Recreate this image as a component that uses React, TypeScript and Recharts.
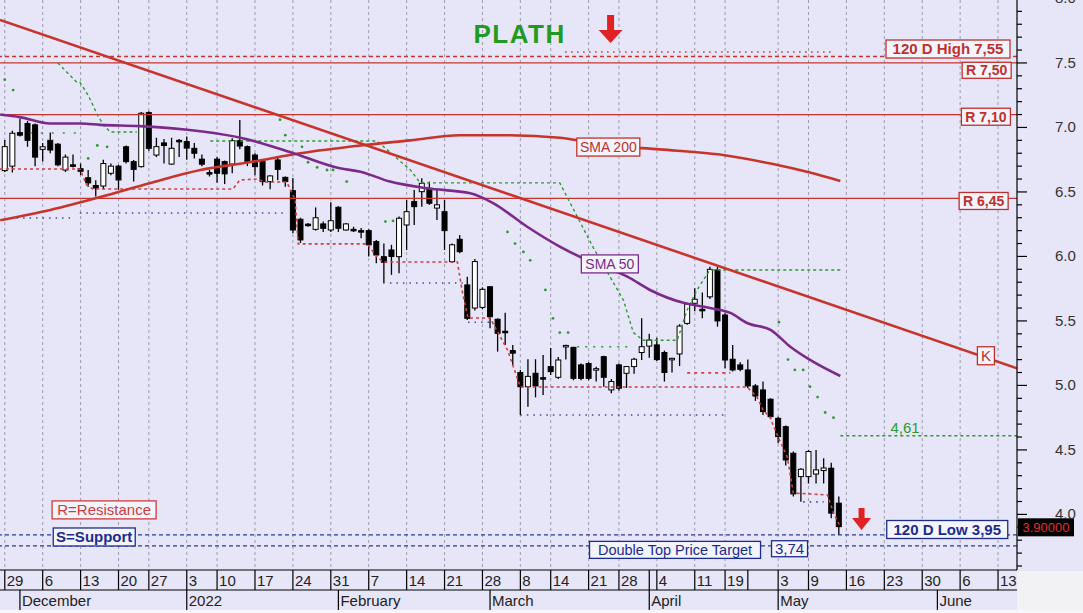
import {
  ComposedChart, Bar, Line, XAxis, YAxis, CartesianGrid, ReferenceLine, ReferenceDot,
} from 'recharts'

const FONT = 'Arial, "Liberation Sans", sans-serif'
const BG = '#e6e6f8'
const BOX_FILL = '#f4f4fc'
const RED = '#c8342c'
const RED_TXT = '#c0302c'
const NAVY = '#1c2c8c'
const PURPLE = '#7b2a8c'
const GREEN = '#2f9a2f'

// trading day index: 0 = Mon 29 Nov 2021 ... 110 = Fri 13 May 2022
const OPEN = [
  6.665, 6.70, 6.96, 7.03, 7.02, 6.83, 6.90, 6.87, 6.67, 6.71,
  6.68, 6.61, 6.55, 6.546, 6.645, 6.70, 6.85, 6.735, 6.696, 7.115,
  6.786, 6.88, 6.716, 6.90, 6.89, 6.838, 6.754, 6.65, 6.754, 6.735,
  6.716, 6.897, 6.851, 6.786, 6.735, 6.58, 6.748, 6.613, 6.51, 6.288,
  6.25, 6.21, 6.252, 6.205, 6.381, 6.205, 6.21, 6.20, 6.20, 6.115,
  5.998, 6.05, 5.998, 6.244, 6.425, 6.502, 6.528, 6.375, 6.347, 5.96,
  6.133, 5.779, 5.60, 5.605, 5.765, 5.513, 5.42, 5.27, 5.10, 4.99,
  5.094, 5.06, 5.146, 5.063, 5.30, 5.295, 5.159, 5.17, 5.13, 5.223,
  4.965, 5.159, 5.094, 5.146, 5.255, 5.305, 5.314, 5.255, 5.21, 5.244,
  5.481, 5.637, 5.59, 5.687, 5.895, 5.546, 5.203, 5.159, 5.12, 4.996,
  4.965, 4.893, 4.745, 4.68, 4.474, 4.293, 4.293, 4.313, 4.34, 4.358,
  4.087,
]
const HIGH = [
  6.903, 6.975, 7.07, 7.05, 7.03, 6.88, 6.96, 6.88, 6.79, 6.79,
  6.72, 6.67, 6.59, 6.75, 6.72, 6.71, 6.86, 6.748, 7.12, 7.125,
  6.92, 6.91, 6.92, 6.91, 6.93, 6.88, 6.79, 6.67, 6.77, 6.743,
  6.916, 7.058, 6.86, 6.80, 6.75, 6.63, 6.77, 6.62, 6.608, 6.30,
  6.26, 6.38, 6.27, 6.42, 6.39, 6.26, 6.23, 6.22, 6.21, 6.128,
  6.10, 6.09, 6.31, 6.438, 6.515, 6.606, 6.58, 6.515, 6.438, 6.10,
  6.166, 5.843, 5.98, 5.76, 5.77, 5.52, 5.564, 5.313, 5.12, 5.203,
  5.203, 5.236, 5.29, 5.22, 5.315, 5.30, 5.17, 5.18, 5.145, 5.23,
  5.05, 5.17, 5.15, 5.215, 5.52, 5.40, 5.37, 5.27, 5.215, 5.475,
  5.64, 5.753, 5.72, 5.92, 5.92, 5.559, 5.313, 5.18, 5.20, 5.01,
  5.03, 4.90, 4.758, 4.69, 4.487, 4.358, 4.50, 4.50, 4.435, 4.40,
  4.138,
]
const LOW = [
  6.655, 6.65, 6.93, 6.85, 6.70, 6.735, 6.80, 6.70, 6.655, 6.69,
  6.63, 6.54, 6.465, 6.52, 6.63, 6.515, 6.72, 6.58, 6.69, 6.82,
  6.77, 6.72, 6.71, 6.77, 6.75, 6.76, 6.70, 6.62, 6.572, 6.561,
  6.645, 6.83, 6.70, 6.63, 6.55, 6.52, 6.59, 6.54, 6.18, 6.105,
  6.23, 6.20, 6.19, 6.19, 6.19, 6.20, 6.19, 6.14, 6.00, 5.947,
  5.79, 5.857, 5.87, 6.05, 6.244, 6.386, 6.40, 6.283, 6.05, 5.95,
  6.024, 5.507, 5.58, 5.59, 5.443, 5.262, 5.313, 5.158, 4.771, 4.835,
  4.908, 4.926, 5.08, 5.05, 5.20, 5.04, 5.04, 5.04, 5.03, 4.99,
  4.94, 4.96, 4.98, 5.09, 5.197, 5.215, 5.19, 5.03, 5.10, 5.15,
  5.47, 5.575, 5.52, 5.67, 5.455, 5.133, 5.107, 5.11, 4.98, 4.88,
  4.771, 4.74, 4.552, 4.38, 4.138, 4.099, 4.24, 4.24, 4.24, 3.97,
  3.841,
]
const CLOSE = [
  6.851, 6.955, 6.94, 6.90, 6.77, 6.85, 6.825, 6.71, 6.77, 6.70,
  6.66, 6.57, 6.53, 6.72, 6.70, 6.593, 6.735, 6.675, 7.11, 6.838,
  6.851, 6.86, 6.838, 6.89, 6.84, 6.80, 6.715, 6.64, 6.645, 6.64,
  6.897, 6.856, 6.735, 6.696, 6.58, 6.624, 6.675, 6.58, 6.205, 6.128,
  6.24, 6.30, 6.218, 6.277, 6.218, 6.252, 6.20, 6.19, 6.09, 6.011,
  5.955, 6.00, 6.296, 6.347, 6.386, 6.567, 6.412, 6.40, 6.20, 6.09,
  6.037, 5.52, 5.96, 5.745, 5.533, 5.404, 5.41, 5.25, 4.99, 5.07,
  4.996, 5.05, 5.107, 5.197, 5.31, 5.055, 5.055, 5.055, 5.13, 5.063,
  5.03, 4.978, 5.146, 5.203, 5.30, 5.352, 5.20, 5.10, 5.21, 5.46,
  5.631, 5.668, 5.58, 5.90, 5.50, 5.197, 5.12, 5.125, 4.996, 4.918,
  4.797, 4.758, 4.603, 4.422, 4.159, 4.35, 4.487, 4.345, 4.36, 4.01,
  3.905,
]

// [day index, value]
const SMA50 = [
  [-0.6, 7.10], [2, 7.08], [6, 7.03], [10, 7.03], [12.6, 7.02], [17.8, 7.01],
  [25.8, 6.97], [31.5, 6.915], [37.6, 6.81], [44.2, 6.683], [46.9, 6.657],
  [50.8, 6.58], [55.7, 6.528], [61.4, 6.49], [64.4, 6.414], [68.9, 6.23],
  [73.2, 6.076], [77.6, 5.95], [82.1, 5.843], [85.1, 5.74], [89.5, 5.64],
  [93, 5.60], [95.7, 5.562], [97.9, 5.484], [101, 5.43], [103.6, 5.30],
  [106.6, 5.184], [110.2, 5.073],
]
const SMA200 = [
  [-0.6, 6.28], [6, 6.36], [12.6, 6.46], [19.2, 6.57], [25.8, 6.67], [32.3, 6.73],
  [39, 6.80], [46.9, 6.86], [53.5, 6.90], [60, 6.94], [66.6, 6.94], [73.2, 6.92],
  [79.8, 6.86], [86.4, 6.83], [94.3, 6.79], [101, 6.72], [106.2, 6.65], [110.2, 6.585],
]
const TREND_K = [[-0.63, 7.833], [133.5, 5.133]]

const R_LEVELS = [7.5, 7.1, 6.45]
const HIGH_120 = 7.55
const LOW_LINE = 3.841
const TARGET_LINE = 3.756
const LAST_PRICE = 3.9
const STOP_LEVEL = 4.61

const SUPPORT_STEPS = [
  [-0.63, 6.678], [9.9, 6.678], [10.8, 6.554], [11.6, 6.523], [30.1, 6.523], [31, 6.593],
  [33.3, 6.60], [34.3, 6.577], [37.2, 6.577], [38.3, 6.438], [38.7, 6.097], [47.8, 6.097],
  [49.1, 5.996], [49.9, 5.957], [59.7, 5.957], [60.3, 5.74], [61.1, 5.523], [64, 5.523],
  [66.3, 5.275], [68, 4.988], [97.9, 4.988], [99.2, 4.911], [100, 4.81], [100.9, 4.755],
  [102, 4.60], [103.2, 4.445], [104, 4.166], [108.5, 4.151], [109.3, 4.011], [110.2, 3.903],
]
const SUPPORT_APR = [[90, 5.097], [95.7, 5.097]]
const RED_TOP_DOTS = [[73.9, 7.585], [109.3, 7.585]]

const GREEN_TRAIL_A = [
  [7, 7.50], [9.5, 7.35], [9.9, 7.35], [11, 7.25], [12.2, 7.10], [13, 7.02], [13.9, 6.965], [17.4, 6.965],
]
const GREEN_TRAIL_B = [
  [27.1, 6.895], [49.1, 6.895], [53.5, 6.67], [54.8, 6.57], [73.2, 6.57], [77.6, 6.07],
  [81.6, 5.66], [82.9, 5.41], [84.2, 5.35], [88.7, 5.35], [90, 5.585], [91.3, 5.74],
  [93, 5.895], [110.2, 5.895],
]
const GREEN_FLAT_A = [[3.3, 6.957], [10.3, 6.957]]
const GREEN_FLAT_B = [[75.5, 5.30], [82.5, 5.30]]
const STOP_LINE = [[110.2, 4.61], [133.5, 4.61]]
const SAR_DOTS = [
  [0, 7.37], [1.1, 7.29], [11, 6.76], [12.2, 6.86], [13.5, 6.85],
  [36.3, 7.06], [37, 6.94], [39.2, 6.85], [40, 6.73], [41.2, 6.69], [42.5, 6.67], [43.3, 6.67],
  [45.1, 6.58], [50.2, 6.27], [51.2, 6.275],
  [66.3, 6.19], [67.3, 6.10], [68.4, 6.035], [69.3, 5.97], [71.3, 5.74], [72.3, 5.52],
  [73.2, 5.41], [74.3, 5.41],
  [102.1, 5.49], [103.3, 5.20], [104.2, 5.12], [105.3, 5.12], [106.2, 4.99], [107.2, 4.91],
  [108.2, 4.79], [109.3, 4.75],
]
const BLUE_DOTTED = [
  [[0.7, 6.298], [9, 6.298]],
  [[9.9, 6.337], [37.2, 6.337]],
  [[50.8, 5.794], [60.4, 5.794]],
  [[61.1, 5.49], [64, 5.49]],
  [[68, 4.771], [95.3, 4.771]],
  [[105.3, 4.097], [108, 4.097]],
]

const WEEK_IDX = [0, 5, 10, 15, 19, 24, 28, 33, 38, 43, 48, 53, 58, 63, 68, 72, 77, 81, 85, 86, 91, 95, 98, 102, 106, 111, 116, 121, 126, 131]
const WEEK_LABELS = ['29', '6', '13', '20', '27', '3', '10', '17', '24', '31', '7', '14', '21', '28', '8', '14', '21', '28', '', '4', '11', '19', '', '3', '9', '16', '23', '30', '6', '13']
const GRID_IDX = WEEK_IDX.filter((_, k) => WEEK_LABELS[k] !== '')
const MONTH_IDX = [2, 24, 44, 64, 85, 102, 123]
const MONTH_LABELS = ['December', '2022', 'February', 'March', 'April', 'May', 'June']
const Y_MAJOR = [4.0, 4.5, 5.0, 5.5, 6.0, 6.5, 7.0, 7.5, 8.0]
const Y_TICKS = Array.from({ length: 45 }, (_, k) => Math.round((3.6 + k * 0.1) * 10) / 10)

const X_DOMAIN = [-0.63, 133.5]
const Y_DOMAIN = [3.569, 7.988]

const candles = OPEN.map((o, i) => ({
  i, o, h: HIGH[i], l: LOW[i], c: CLOSE[i], range: [LOW[i], HIGH[i]],
}))
const pts = (arr: number[][]) => arr.map(([i, v]) => ({ i, v }))

function Candle(props: any) {
  const { x, y, width, height, index } = props
  const d = candles[index]
  if (x == null || !d) return null
  const top = Math.min(y, y + height)
  const hh = Math.abs(height)
  const k = hh / (d.h - d.l)
  const cx = x + width / 2
  const yO = top + (d.h - d.o) * k
  const yC = top + (d.h - d.c) * k
  const up = d.c >= d.o
  const bTop = Math.min(yO, yC)
  const bH = Math.max(Math.abs(yO - yC), 1.5)
  return (
    <g>
      <line x1={cx} x2={cx} y1={top} y2={top + hh} stroke="#000" strokeWidth={1.3} />
      <rect
        x={cx - 2.5} y={bTop} width={5} height={bH}
        fill={up ? '#ffffff' : '#000000'} stroke="#000000" strokeWidth={1}
      />
    </g>
  )
}

function WeekTick({ x, y, payload }: any) {
  const k = WEEK_IDX.indexOf(payload.value)
  return (
    <g>
      <line x1={x} x2={x} y1={y} y2={y + 20} stroke="#000" strokeWidth={1.2} />
      <text x={x + 2} y={y + 16} fontSize={15} fill="#222" fontFamily={FONT}>{WEEK_LABELS[k]}</text>
    </g>
  )
}

function MonthTick({ x, y, payload }: any) {
  const k = MONTH_IDX.indexOf(payload.value)
  return (
    <g>
      <line x1={x} x2={x} y1={y} y2={y + 20} stroke="#000" strokeWidth={1.2} />
      <text x={x + 2} y={y + 16} fontSize={15} fill="#222" fontFamily={FONT}>{MONTH_LABELS[k]}</text>
    </g>
  )
}

function PriceTick({ x, y, payload }: any) {
  const v = payload.value
  const major = Y_MAJOR.some(m => Math.abs(m - v) < 1e-6)
  return (
    <g>
      <line x1={x} x2={x + (major ? 10 : 5)} y1={y} y2={y} stroke="#000" strokeWidth={1.2} />
      {major && (
        <text x={x + 38} y={y + 5} fontSize={15} fill="#333" fontFamily={FONT}>{v.toFixed(1)}</text>
      )}
    </g>
  )
}

type Note = { i: number; v: number; text: string; w: number; h: number; color: string; size: number; bold?: boolean }

const NOTES: Note[] = [
  { i: 124.4, v: 7.608, text: '120 D High 7,55', w: 124, h: 18, color: RED_TXT, size: 15, bold: true },
  { i: 129.5, v: 7.443, text: 'R 7,50', w: 49, h: 16, color: RED_TXT, size: 14, bold: true },
  { i: 129.4, v: 7.083, text: 'R 7,10', w: 49, h: 17, color: RED_TXT, size: 14, bold: true },
  { i: 129.1, v: 6.43, text: 'R 6,45', w: 49, h: 17, color: RED_TXT, size: 14, bold: true },
  { i: 79.6, v: 6.848, text: 'SMA 200', w: 63, h: 18, color: RED_TXT, size: 14 },
  { i: 79.8, v: 5.942, text: 'SMA 50', w: 57, h: 18, color: PURPLE, size: 14 },
  { i: 129.4, v: 5.23, text: 'K', w: 17, h: 18, color: RED_TXT, size: 15 },
  { i: 13.1, v: 4.035, text: 'R=Resistance', w: 104, h: 18, color: '#d03a3a', size: 15 },
  { i: 11.8, v: 3.825, text: 'S=Support', w: 82, h: 18, color: NAVY, size: 15, bold: true },
  { i: 88.4, v: 3.725, text: 'Double Top Price Target', w: 171, h: 17, color: NAVY, size: 14.5 },
  { i: 103.5, v: 3.734, text: '3,74', w: 36, h: 16, color: NAVY, size: 15 },
  { i: 124.3, v: 3.883, text: '120 D Low 3,95', w: 121, h: 18, color: NAVY, size: 15, bold: true },
]

const boxShape = (n: Note) => (p: any) => (
  <g>
    <rect x={p.cx - n.w / 2} y={p.cy - n.h / 2} width={n.w} height={n.h} fill={BOX_FILL} stroke={n.color} strokeWidth={1.3} />
    <text
      x={p.cx} y={p.cy + n.size * 0.36} textAnchor="middle" fontSize={n.size}
      fontWeight={n.bold ? 'bold' : 'normal'} fill={n.color} fontFamily={FONT}
    >{n.text}</text>
  </g>
)

const arrowShape = (shaftW: number, shaftH: number, headW: number, headH: number) => (p: any) => (
  <polygon
    fill="#e02222"
    points={[
      [p.cx - shaftW / 2, p.cy], [p.cx + shaftW / 2, p.cy], [p.cx + shaftW / 2, p.cy + shaftH],
      [p.cx + headW / 2, p.cy + shaftH], [p.cx, p.cy + shaftH + headH],
      [p.cx - headW / 2, p.cy + shaftH], [p.cx - shaftW / 2, p.cy + shaftH],
    ].map(q => q.join(',')).join(' ')}
  />
)

export default function App() {
  return (
    <div style={{ position: 'absolute', left: 0, top: 0, width: 1083, height: 613, background: BG, fontFamily: FONT }}>
      <div style={{ position: 'absolute', left: 1017, top: 571, width: 66, height: 42, background: '#f2f2f4' }} />
      <div style={{ position: 'absolute', left: 0, top: 610, width: 1083, height: 3, background: '#f6f6f8' }} />
      <ComposedChart width={1083} height={613} data={candles} margin={{ top: 0, right: 0, left: 0, bottom: 3 }} style={{ position: 'absolute', left: 0, top: 0 }}>
        <CartesianGrid
          xAxisId="d" horizontal={false} verticalValues={GRID_IDX}
          stroke="#9c9cae" strokeDasharray="3 3"
        />
        <XAxis
          xAxisId="d" dataKey="i" type="number" domain={X_DOMAIN} allowDataOverflow
          ticks={WEEK_IDX} interval={0} tick={<WeekTick />} tickLine={false} tickSize={0} tickMargin={0}
          height={20} axisLine={{ stroke: '#000', strokeWidth: 1.2 }}
        />
        <XAxis
          xAxisId="m" dataKey="i" type="number" domain={X_DOMAIN} allowDataOverflow
          ticks={MONTH_IDX} interval={0} tick={<MonthTick />} tickLine={false} tickSize={0} tickMargin={0}
          height={20} axisLine={{ stroke: '#000', strokeWidth: 1.2 }}
        />
        <YAxis
          orientation="right" width={66} type="number" domain={Y_DOMAIN} allowDataOverflow
          ticks={Y_TICKS} interval={0} tick={<PriceTick />} tickLine={false} tickSize={0} tickMargin={0}
          axisLine={{ stroke: '#000', strokeWidth: 1.2 }}
        />

        <ReferenceLine xAxisId="d" y={HIGH_120} stroke={RED} strokeWidth={1.3} strokeDasharray="4 3" />
        {R_LEVELS.map(r => (
          <ReferenceLine key={r} xAxisId="d" y={r} stroke={RED} strokeWidth={1.3} />
        ))}
        <ReferenceLine xAxisId="d" y={LOW_LINE} stroke="#2a3a9a" strokeWidth={1.3} strokeDasharray="4 3" />
        <ReferenceLine xAxisId="d" y={TARGET_LINE} stroke="#2a3a9a" strokeWidth={1.3} strokeDasharray="4 3" />

        <Line xAxisId="d" data={pts(RED_TOP_DOTS)} dataKey="v" stroke={RED} strokeWidth={1.5} strokeDasharray="1.5 4.5" dot={false} activeDot={false} isAnimationActive={false} />
        <Line xAxisId="d" data={pts(SUPPORT_STEPS)} dataKey="v" stroke="#d04040" strokeWidth={1.6} strokeDasharray="3 3" dot={false} activeDot={false} isAnimationActive={false} />
        <Line xAxisId="d" data={pts(SUPPORT_APR)} dataKey="v" stroke="#d04040" strokeWidth={1.6} strokeDasharray="3 4" dot={false} activeDot={false} isAnimationActive={false} />
        {BLUE_DOTTED.map((seg, k) => (
          <Line key={k} xAxisId="d" data={pts(seg)} dataKey="v" stroke="#3a4aa8" strokeWidth={1.6} strokeDasharray="1.5 5" dot={false} activeDot={false} isAnimationActive={false} />
        ))}
        <Line xAxisId="d" data={pts(GREEN_TRAIL_A)} dataKey="v" stroke={GREEN} strokeWidth={1.4} strokeDasharray="3 3" dot={false} activeDot={false} isAnimationActive={false} />
        <Line xAxisId="d" data={pts(GREEN_TRAIL_B)} dataKey="v" stroke={GREEN} strokeWidth={1.4} strokeDasharray="3 3" dot={false} activeDot={false} isAnimationActive={false} />
        <Line xAxisId="d" data={pts(GREEN_FLAT_A)} dataKey="v" stroke={GREEN} strokeWidth={1.6} strokeDasharray="2 9" dot={false} activeDot={false} isAnimationActive={false} />
        <Line xAxisId="d" data={pts(GREEN_FLAT_B)} dataKey="v" stroke={GREEN} strokeWidth={1.6} strokeDasharray="2 6" dot={false} activeDot={false} isAnimationActive={false} />
        <Line xAxisId="d" data={pts(STOP_LINE)} dataKey="v" stroke={GREEN} strokeWidth={1.4} strokeDasharray="3 3" dot={false} activeDot={false} isAnimationActive={false} />
        <Line
          xAxisId="d" data={pts(SAR_DOTS)} dataKey="v" stroke="none"
          dot={{ r: 1.4, fill: GREEN, stroke: 'none' }} activeDot={false} isAnimationActive={false}
        />

        <Line xAxisId="d" data={pts(SMA200)} dataKey="v" type="monotone" stroke={RED} strokeWidth={2.6} dot={false} activeDot={false} isAnimationActive={false} />
        <Line xAxisId="d" data={pts(SMA50)} dataKey="v" type="monotone" stroke={PURPLE} strokeWidth={2.6} dot={false} activeDot={false} isAnimationActive={false} />
        <Line xAxisId="d" data={pts(TREND_K)} dataKey="v" stroke={RED} strokeWidth={2.6} dot={false} activeDot={false} isAnimationActive={false} />

        <Bar xAxisId="d" dataKey="range" barSize={6} shape={(p: any) => <Candle {...p} />} isAnimationActive={false} />

        {NOTES.map(n => (
          <ReferenceDot key={n.text} xAxisId="d" x={n.i} y={n.v} r={0} ifOverflow="visible" shape={boxShape(n)} />
        ))}
        <ReferenceDot
          xAxisId="d" x={67.9} y={7.655} r={0} ifOverflow="visible"
          shape={(p: any) => (
            <text x={p.cx} y={p.cy} textAnchor="middle" fontSize={26} fontWeight="bold" letterSpacing={1.5} fill="#229a22" fontFamily={FONT}>PLATH</text>
          )}
        />
        <ReferenceDot
          xAxisId="d" x={116.8} y={4.631} r={0} ifOverflow="visible"
          shape={(p: any) => (
            <text x={p.cx} y={p.cy} fontSize={15} fill={GREEN} fontFamily={FONT}>{String(STOP_LEVEL).replace('.', ',')}</text>
          )}
        />
        <ReferenceDot xAxisId="d" x={79.9} y={7.872} r={0} ifOverflow="visible" shape={arrowShape(7, 15, 24, 13)} />
        <ReferenceDot xAxisId="d" x={113} y={4.05} r={0} ifOverflow="visible" shape={arrowShape(6, 10, 19, 12)} />
        <ReferenceDot
          xAxisId="d" x={133.5} y={LAST_PRICE} r={0} ifOverflow="visible"
          shape={(p: any) => (
            <g>
              <rect x={p.cx + 1} y={p.cy - 9} width={56} height={18} fill="#000" />
              <text x={p.cx + 29} y={p.cy + 5} textAnchor="middle" fontSize={13} fill="#e03030" fontFamily={FONT}>{LAST_PRICE.toFixed(5)}</text>
            </g>
          )}
        />
      </ComposedChart>
    </div>
  )
}
